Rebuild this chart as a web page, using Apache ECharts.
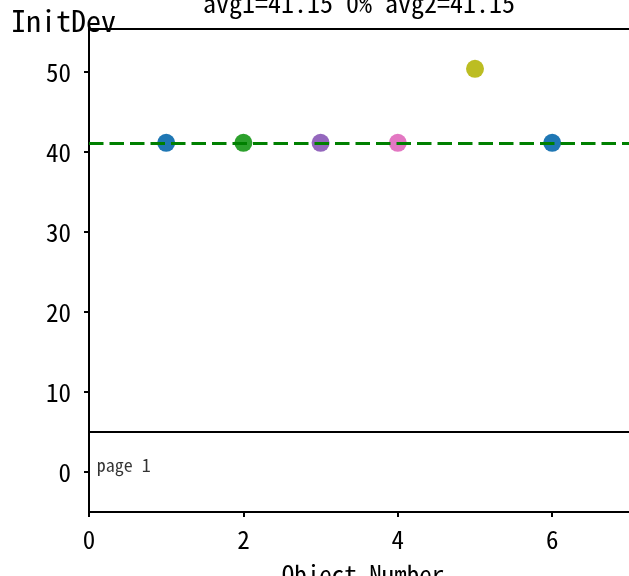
<!DOCTYPE html>
<html><head><meta charset="utf-8">
<script src="https://cdn.jsdelivr.net/npm/echarts@6/dist/echarts.min.js"></script>
<style>html,body{margin:0;padding:0;background:#fff}#c{width:629px;height:576px}</style>
</head><body><div id="c"></div>
<script>
const objectNumbers = [1, 2, 3, 4, 5, 6];
const initDevValues = [41.15, 41.15, 41.15, 41.15, 50.4, 41.15];
const pointColors = ['#1f77b4', '#2ca02c', '#9467bd', '#e377c2', '#bcbd22', '#1f77b4'];
const avg1 = 41.15, avg2 = 41.15, pct = '0%';
const pageLineY = 5;
const yTicks = [0, 10, 20, 30, 40, 50];
const xTicks = [0, 2, 4, 6];
const titleText = 'avg1=' + avg1 + ' ' + pct + ' avg2=' + avg2;
const FONT = '"Noto Sans Mono CJK JP", "Noto Sans CJK JP", monospace';

const chart = echarts.init(document.getElementById('c'), null, {renderer: 'canvas'});
const xMax = 7.1, yMin = -5, yMax = 55.375;
const gridLeft = 89, gridTop = 29, gridBottom = 64;
const pxPerX = 77.2;
const gridRight = 629 - gridLeft - pxPerX * xMax;

chart.setOption({
  animation: false,
  grid: {left: gridLeft, top: gridTop, bottom: gridBottom, right: gridRight, outerBoundsMode: 'none', containLabel: false,
         show: true, borderColor: '#000', borderWidth: 2, backgroundColor: 'transparent'},
  xAxis: {
    type: 'value', min: 0, max: xMax,
    name: 'Object Number', nameLocation: 'middle', nameGap: 50,
    nameTextStyle: {fontFamily: FONT, fontSize: 25, color: '#000'},
    axisLine: {show: true, onZero: false, lineStyle: {color: '#000', width: 2}},
    axisTick: {show: true, customValues: xTicks, length: 5, lineStyle: {color: '#000', width: 2}},
    axisLabel: {customValues: xTicks, fontFamily: FONT, fontSize: 25, color: '#000', margin: 15},
    splitLine: {show: false}
  },
  yAxis: {
    type: 'value', min: yMin, max: yMax,
    axisLine: {show: true, onZero: false, lineStyle: {color: '#000', width: 2}},
    axisTick: {show: true, customValues: yTicks, length: 5, lineStyle: {color: '#000', width: 2}},
    axisLabel: {customValues: yTicks, fontFamily: FONT, fontSize: 25, color: '#000', margin: 18},
    splitLine: {show: false}
  },
  graphic: [
    {type: 'text', x: 359, y: -10, style: {text: titleText, fontFamily: FONT, fontSize: 26, fill: '#000', textAlign: 'center', textVerticalAlign: 'top'}},
    {type: 'text', x: 11, y: 6, style: {text: 'InitDev', fontFamily: FONT, fontSize: 30, fill: '#000', textVerticalAlign: 'top'}}
  ],
  series: [
    {
      type: 'scatter', symbolSize: 18, z: 2,
      data: objectNumbers.map((x, i) => ({value: [x, initDevValues[i]], itemStyle: {color: pointColors[i], opacity: 1}}))
    },
    {
      type: 'line', data: [], z: 5, symbol: 'none',
      markLine: {
        silent: true, symbol: 'none', label: {show: false},
        data: [
          {yAxis: avg2, lineStyle: {color: '#008000', width: 3, type: [14.5, 6]}},
          {yAxis: pageLineY, lineStyle: {color: '#000', width: 2, type: 'solid'}}
        ]
      }
    },
    {
      type: 'scatter', symbolSize: 0, z: 6,
      data: [[0.1, 0]],
      label: {show: true, position: 'right', distance: 0, offset: [0, -7], formatter: 'page 1', fontFamily: FONT, fontSize: 18, color: '#000'}
    }
  ]
});
</script></body></html>
